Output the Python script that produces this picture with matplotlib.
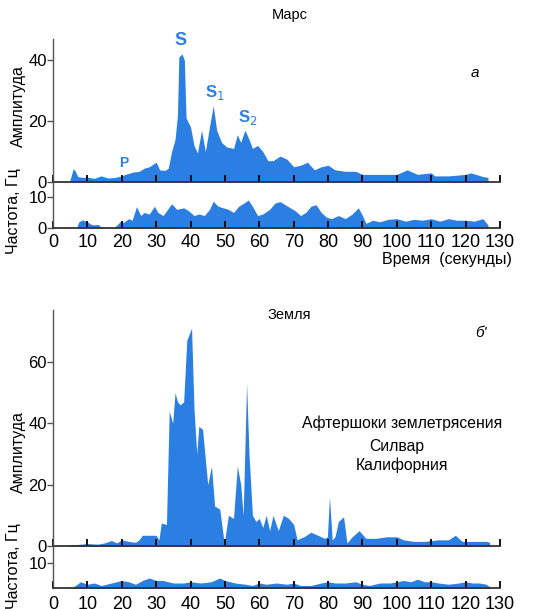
import numpy as np
import matplotlib.pyplot as plt

plt.rcParams['font.family'] = ['Liberation Sans', 'DejaVu Sans']

# =========================
# DATA
# =========================

# Марс: амплитуда
MARS_AMP_T = [4.9, 5.9, 6.5, 7.2, 8.5, 10, 12, 14, 16, 18, 20, 21, 22, 23, 25, 26.5, 28,
              30, 31, 32.5, 33.5, 34.5, 35.5, 36.2, 36.6, 37.5, 38.2, 38.7, 40, 41, 42,
              43.2, 44.3, 45.5, 46.6, 47.6, 49, 50.5, 52.5, 53.6, 54.6, 55.8, 57, 58,
              59.5, 61, 62.5, 64, 66, 68, 70, 72, 74, 76, 78, 80, 82, 85, 88, 90, 95,
              100, 103, 106, 110, 111, 115, 120, 121.5, 125, 126.5]
MARS_AMP = [0.5, 4.4, 3.5, 1.8, 1.5, 1.6, 1.2, 2.0, 1.3, 1.5, 2.0, 2.5, 2.8, 3.2, 3.5, 4.5, 5.0,
            6.5, 4.0, 3.8, 4.5, 10, 14, 22, 41, 42, 40, 21, 18, 12, 9.5,
            17, 10, 18, 25, 17, 13, 11.5, 11, 15.5, 13, 17, 14, 11,
            12, 10, 7, 7, 8.5, 7.5, 5, 5.5, 6.5, 4, 5, 5.5, 4, 3.5, 3.5, 2.5, 2.5,
            2.5, 4, 2.5, 3, 2, 2, 2.5, 3, 1.8, 1.5]

# Марс: частота
MARS_FREQ_T1 = [6.9, 7.5, 8.5, 10, 11, 12, 13, 14.2]
MARS_FREQ_1 = [0.2, 2.0, 2.6, 2.0, 1.2, 1.0, 1.2, 0.2]
MARS_FREQ_T2 = [18, 19.5, 20.5, 22, 23, 24.3, 25.5, 26.5, 28, 29.5, 30.5, 32, 33, 34.5,
                36, 38, 39.5, 41, 42.5, 44, 45.5, 46.6, 48, 49.5, 51, 52.5, 54, 55.5,
                56.8, 58, 59.5, 61, 63, 64.5, 66, 67.5, 69, 70.5, 72, 73.5, 75, 76.5,
                78, 79.5, 81, 83, 85, 87, 88.8, 90, 91, 93, 95, 97.5, 100, 102.5, 105,
                107.5, 110, 112.5, 115, 117.5, 120, 122.5, 125, 126.5]
MARS_FREQ_2 = [0.3, 2.0, 1.8, 3.0, 2.5, 6.9, 4.0, 5.0, 4.5, 7.0, 5.0, 4.0, 5.5, 7.8,
               6.0, 6.5, 5.5, 4.0, 4.5, 4.0, 6.0, 8.6, 7.0, 6.5, 6.0, 5.0, 7.0, 8.0,
               9.0, 7.0, 4.0, 4.5, 6.0, 8.0, 8.5, 7.5, 6.5, 5.5, 4.0, 5.0, 7.0, 7.5,
               5.0, 3.5, 3.0, 4.0, 3.0, 4.5, 6.5, 4.0, 1.5, 2.5, 2.0, 2.8, 3.0, 2.2, 2.8,
               2.5, 3.0, 2.2, 3.0, 2.5, 2.5, 2.2, 3.0, 1.0]

# Земля: амплитуда
EARTH_AMP_T = [4.5, 7, 10, 13, 15, 17, 18.5, 20, 22, 24, 25, 26, 28, 30, 30.8, 31.5, 33,
               33.8, 34.8, 35.5, 36.2, 37, 38, 38.9, 40.3, 41, 41.8, 42.4, 43.5, 45, 46.1,
               47, 48.5, 49.2, 49.8, 51, 52.5, 53.6, 54.6, 55.3, 56.3, 57, 58, 59, 60, 61,
               62, 63, 64, 65.5, 67, 68.5, 70, 71, 71.8, 73, 75, 77, 79, 79.8, 80.4, 81.2,
               82, 83, 84.5, 85.5, 87, 89, 91, 94, 97, 100, 102, 105, 108, 112, 115, 117,
               119, 122, 126, 127]
EARTH_AMP = [0.3, 0.5, 0.8, 0.6, 1.0, 1.8, 1.0, 2.0, 1.5, 1.2, 2.0, 3.5, 3.5, 3.5, 2.0, 7.5, 7.0,
             44, 40, 50, 47, 46, 47, 67, 71, 45, 30, 39, 38, 20, 26,
             13, 12, 6, 0.8, 10, 9, 26, 20, 10, 53, 30, 10, 8, 9, 6,
             10, 5, 10, 5, 10, 9, 7, 2, 2.5, 3, 4.5, 3.5, 2.5, 3, 16, 2,
             3, 8, 9.5, 1, 3, 5, 2.5, 2.5, 3, 3, 2, 1.5, 1.5, 2, 2, 3.5,
             1.5, 1.5, 1.5, 1.2]

# Земля: частота
EARTH_FREQ_T = [5, 6, 7, 8, 10, 12, 14, 17, 20, 22, 24, 26, 28, 30, 32, 35, 38, 40, 43,
                46, 48.5, 50, 53, 56, 58, 60, 62, 65, 68, 70, 72, 75, 78, 80, 82, 85, 88,
                90, 92, 95, 98, 100, 102, 104, 106, 108, 110, 112, 115, 118, 120, 122,
                124, 126, 127]
EARTH_FREQ = [0.0, 0.5, 1.5, 2.5, 1.5, 2.0, 1.0, 2.0, 3.0, 2.5, 1.5, 3.0, 4.0, 3.0, 3.0, 2.0,
              2.0, 2.5, 2.0, 2.5, 4.0, 3.0, 2.0, 1.5, 1.0, 2.0, 1.5, 2.0, 1.5, 2.0, 1.0,
              1.0, 2.0, 2.5, 2.0, 2.0, 2.5, 1.5, 1.0, 2.0, 2.0, 2.5, 3.0, 2.5, 3.5, 2.5,
              2.5, 2.0, 1.5, 2.0, 2.5, 2.0, 2.0, 1.5, 0.5]

X_TICKS = list(range(0, 131, 10))

# =========================
# STYLE
# =========================

BLUE = "#2b7fe3"
W, H = 544, 609


def fig_rect(x0, y_top, x1, y_bot):
    # pixel box -> figure fraction
    return [x0 / W, 1 - y_bot / H, (x1 - x0) / W, (y_bot - y_top) / H]


def style_axes(ax, yticks, ylim, show_xlabels=False, label_pad=3):
    ax.set_xlim(0, 130)
    ax.set_ylim(*ylim)
    for side in ["top", "right"]:
        ax.spines[side].set_visible(False)
    ax.spines["left"].set_linewidth(1.0)
    ax.spines["left"].set_color("#555555")
    ax.spines["bottom"].set_linewidth(1.3)
    ax.spines["bottom"].set_color("#333333")
    ax.set_yticks(yticks)
    ax.tick_params(axis="y", direction="out", length=4, width=1.0,
                   labelsize=12, pad=0.5, color="#555555")
    ax.set_xticks(X_TICKS)
    ax.tick_params(axis="x", direction="in", length=5, width=1.3,
                   labelsize=13, pad=label_pad)
    if not show_xlabels:
        ax.set_xticklabels([])
    ax.patch.set_alpha(0)


fig = plt.figure(figsize=(W / 100, H / 100), dpi=100)

# ---------- Марс ----------
ax_ma = fig.add_axes(fig_rect(53, 39, 500, 182))
ax_ma.fill_between(MARS_AMP_T, 0, MARS_AMP, color=BLUE, linewidth=0, zorder=1)
style_axes(ax_ma, [0, 20, 40], (0, 46.9))

ax_mf = fig.add_axes(fig_rect(53, 182, 500, 228))
ax_mf.fill_between(MARS_FREQ_T1, 0, MARS_FREQ_1, color=BLUE, linewidth=0)
ax_mf.fill_between(MARS_FREQ_T2, 0, MARS_FREQ_2, color=BLUE, linewidth=0)
style_axes(ax_mf, [0, 10], (0, 14.8), show_xlabels=True, label_pad=4)

for lbl, tx, ty, fs in [("S", 37.2, 46.3, 13), ("S$_1$", 47.1, 29.5, 12),
                        ("S$_2$", 56.7, 21.3, 12), ("P", 20.6, 6.2, 10)]:
    ax_ma.text(tx, ty, lbl, color=BLUE, fontsize=fs, fontweight="bold",
               ha="center", va="center", clip_on=False)

fig.text(290 / W, 1 - 15 / H, "Марс", fontsize=10.5, ha="center", va="center")
fig.text(475 / W, 1 - 73 / H, "а", fontsize=11, style="italic", ha="center", va="center")
fig.text(18 / W, 1 - 106 / H, "Амплитуда", fontsize=11.5, rotation=90,
         ha="center", va="center")
fig.text(14 / W, 1 - 211 / H, "Частота, Гц", fontsize=11.5, rotation=90,
         ha="center", va="center")
fig.text(512 / W, 1 - 260 / H, "Время  (секунды)", fontsize=11.5,
         ha="right", va="center")

# ---------- Земля ----------
ax_ea = fig.add_axes(fig_rect(53, 310, 500, 546))
ax_ea.fill_between(EARTH_AMP_T, -0.6, EARTH_AMP, color=BLUE, linewidth=0)
style_axes(ax_ea, [0, 20, 40, 60], (0, 76.9))

ax_ef = fig.add_axes(fig_rect(53, 546, 500, 588))
ax_ef.fill_between(EARTH_FREQ_T, -0.8, EARTH_FREQ, color=BLUE, linewidth=0)
style_axes(ax_ef, [10], (0, 16.8), show_xlabels=True, label_pad=6)
ax_ef.spines["bottom"].set_zorder(3)

fig.text(289 / W, 1 - 315 / H, "Земля", fontsize=10.5, ha="center", va="center")
fig.text(481 / W, 1 - 333 / H, "б'", fontsize=11, style="italic", ha="center", va="center")
fig.text(402 / W, 1 - 423 / H, "Афтершоки землетрясения", fontsize=11.3,
         ha="center", va="center")
fig.text(397 / W, 1 - 447 / H, "Силвар", fontsize=11.3, ha="center", va="center")
fig.text(402 / W, 1 - 465 / H, "Калифорния", fontsize=11.3, ha="center", va="center")
fig.text(18 / W, 1 - 452 / H, "Амплитуда", fontsize=11.5, rotation=90,
         ha="center", va="center")
fig.text(14 / W, 1 - 566 / H, "Частота, Гц", fontsize=11.5, rotation=90,
         ha="center", va="center")

fig.savefig("out.png", dpi=100)
